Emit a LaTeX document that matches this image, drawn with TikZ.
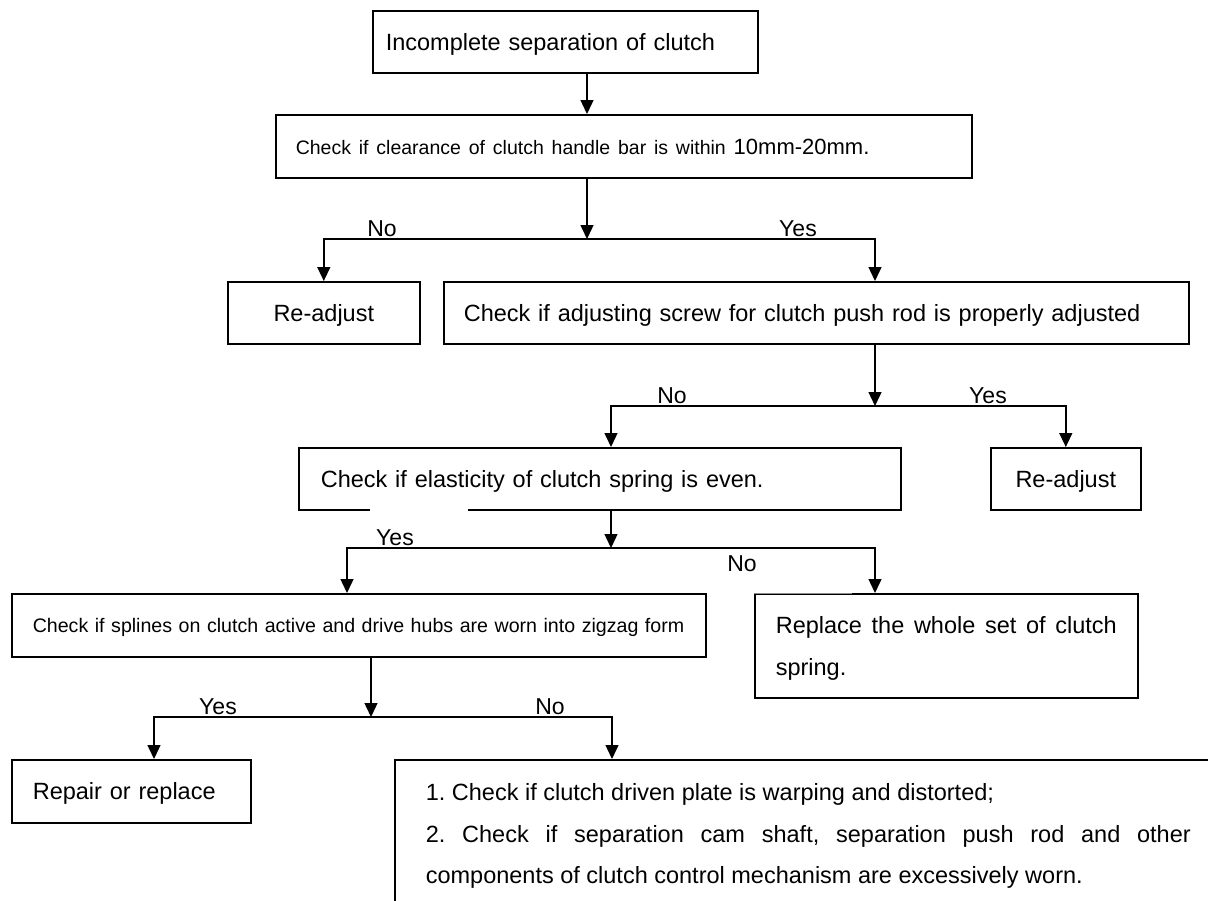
\documentclass[tikz,border=0pt]{standalone}
\usepackage{fontspec}
\setmainfont{Liberation Sans}
\usetikzlibrary{arrows.meta}
\frenchspacing
\begin{document}
\begin{tikzpicture}[x=1pt,y=-1pt,
  box/.style={draw, line width=1.6pt, anchor=north west, inner ysep=0pt, align=left,
    font=\fontsize{23.5}{28}\selectfont, text height=16.8pt, text depth=0pt},
  arr/.style={-{Triangle[width=13pt,length=14pt]}, line width=1.4pt},
  lbl/.style={anchor=base, font=\fontsize{23}{28}\selectfont, inner sep=0pt}]
\useasboundingbox (0,0) rectangle (1208,900);

% boxes
\node[box, inner xsep=13pt, text width=359pt, minimum height=62pt] (b1) at (372,10)
  {\mbox{Incomplete separation of clutch}};
\node[box, inner xsep=20pt, text width=656pt, minimum height=63pt, text height=15.7pt] (b2) at (275,114)
  {\mbox{\fontsize{19.5}{24}\selectfont Check if clearance of clutch handle bar is within \fontsize{22}{26}\selectfont 10mm-20mm.}};
\node[box, inner xsep=10pt, text width=172pt, minimum height=62pt, align=center] (r1) at (227,281) {Re-adjust};
\node[box, inner xsep=20pt, text width=705pt, minimum height=62pt] (b3) at (443,281)
  {\mbox{Check if adjusting screw for clutch push rod is properly adjusted}};
\node[box, inner xsep=22pt, text width=558pt, minimum height=62pt] (b4) at (298,447)
  {\mbox{Check if elasticity of clutch spring is even.}};
\node[box, inner xsep=10pt, text width=130pt, minimum height=62pt, align=center] (r2) at (990,447) {Re-adjust};
\node[box, inner xsep=21pt, text width=652pt, minimum height=63pt, font=\fontsize{19.6}{24}\selectfont, text height=14.1pt] (b5) at (11,593)
  {\mbox{Check if splines on clutch active and drive hubs are worn into zigzag form}};
\node[box, inner xsep=21pt, text width=341pt, minimum height=104pt, align=justify,
  font=\fontsize{23.5}{42}\selectfont, text height=16.8pt, text depth=42pt] (b6) at (754,593)
  {Replace the whole set of clutch\linebreak spring.};
\node[box, inner xsep=21pt, text width=197pt, minimum height=63pt] (b7) at (11,759) {Repair or replace};
\node[box, inner xsep=31pt, inner ysep=24pt, text width=765pt, align=justify,
  font=\fontsize{23.5}{41.5}\selectfont, text height=16.8pt, text depth=83pt] (b8) at (394,759)
  {1. Check if clutch driven plate is warping and distorted;\par
   2. Check if separation cam shaft, separation push rod and other\linebreak
   components of clutch control mechanism are excessively worn.};

% artefacts of the original border lines
\draw[white, line width=3pt] (370,509) -- (468,509);
\draw[white, line width=2.6pt] (755,593) -- (852,593);
\draw[black!45, line width=0.8pt] (754,593) -- (852,593);

% helper coordinates
\coordinate (j1) at (587,239);
\coordinate (j2) at (875,406);
\coordinate (j3) at (611,548);
\coordinate (j4) at (371,717);
\coordinate (x875) at (875,0);
\coordinate (x611) at (611,0);
\coordinate (x347) at (347,0);
\coordinate (x154) at (154,0);
\coordinate (x612) at (612,0);

% connectors
\draw[arr] (b1.south -| j1) -- (b2.north -| j1);
\draw[arr] (b2.south -| j1) -- (j1);
\draw[arr] (j1) -| (r1.north);
\draw[arr] (j1) -| (b3.north -| x875);

\draw[arr] (b3.south -| j2) -- (j2);
\draw[arr] (j2) -| (b4.north -| x611);
\draw[arr] (j2) -| (r2.north);

\draw[arr] (b4.south -| j3) -- (j3);
\draw[arr] (j3) -| (b5.north -| x347);
\draw[arr] (j3) -| (b6.north -| x875);

\draw[arr] (b5.south -| j4) -- (j4);
\draw[arr] (j4) -| (b7.north -| x154);
\draw[arr] (j4) -| (b8.north -| x612);

% labels
\node[lbl] (n1) at (382,236) {No};
\node[lbl] (y1) at (798,236) {Yes};
\node[lbl] (n2) at (672,403) {No};
\node[lbl] (y2) at (988,403) {Yes};
\node[lbl] (y3) at (395,545) {Yes};
\node[lbl] (n3) at (742,571) {No};
\node[lbl] (y4) at (218,714) {Yes};
\node[lbl] (n4) at (550,714) {No};
\end{tikzpicture}
\end{document}
